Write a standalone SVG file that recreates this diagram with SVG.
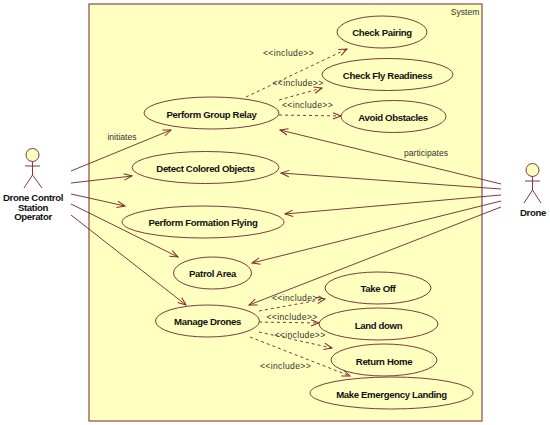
<svg xmlns="http://www.w3.org/2000/svg" width="550" height="425" viewBox="0 0 550 425">
<style>
.sys{fill:#ffffc0;stroke:#8b4a4a;stroke-width:1.2}
.uc{fill:#ffffc0;stroke:#7f3a3a;stroke-width:1}
.t{font-family:"Liberation Sans",Arial,sans-serif;font-weight:700;font-size:9.600px;letter-spacing:-.35px;fill:#111;text-anchor:middle;dominant-baseline:central}
.l{font-family:"Liberation Sans",Arial,sans-serif;font-size:8.600px;fill:#333;text-anchor:middle;dominant-baseline:central}
.i{letter-spacing:.35px}
.as{fill:none;stroke:#7f3a3a;stroke-width:1;marker-end:url(#a)}
.inc{fill:none;stroke:#7f3a3a;stroke-width:1;stroke-dasharray:3 3;marker-end:url(#a)}
.act{fill:none;stroke:#7f3a3a;stroke-width:1}
.head{fill:#ffffc0;stroke:#7f3a3a;stroke-width:1}
</style>
<defs><marker id="a" markerUnits="userSpaceOnUse" markerWidth="12" markerHeight="10" refX="10" refY="5" orient="auto"><path d="M2 1.800L10 5L2 8.200" fill="none" stroke="#7f2a2a" stroke-width="1"/></marker></defs>
<rect width="550" height="425" fill="#fff"/>
<g id="system"><rect class="sys" x="89" y="4" width="393" height="417"/><text class="l" x="465" y="12">System</text></g>
<g id="connectors">
<path class="as" d="M71 171L171 130"/><path class="as" d="M71 183L132 176"/><path class="as" d="M71 194L125 206"/><path class="as" d="M71 204L178 257"/><path class="as" d="M71 215L186 305"/>
<path class="as" d="M501 184L280 130"/><path class="as" d="M501 189L281 173"/><path class="as" d="M501 195L285 214"/><path class="as" d="M501 201L252 263"/><path class="as" d="M501 207L249 305"/>
<path class="inc" d="M246 97L347 49"/><path class="inc" d="M279 100L322 88"/><path class="inc" d="M279 115L341 116"/>
<path class="inc" d="M259 311L325 299"/><path class="inc" d="M259 322L319 323"/><path class="inc" d="M259 332L332 348"/><path class="inc" d="M250 337L350 376"/>
<text class="l" x="122" y="137">initiates</text><text class="l" x="426" y="153">participates</text>
<text class="l i" x="288.500" y="53">&lt;&lt;include&gt;&gt;</text><text class="l i" x="298" y="83">&lt;&lt;include&gt;&gt;</text><text class="l i" x="307.500" y="105">&lt;&lt;include&gt;&gt;</text>
<text class="l i" x="297.500" y="298">&lt;&lt;include&gt;&gt;</text><text class="l i" x="292" y="316.500">&lt;&lt;include&gt;&gt;</text><text class="l i" x="300" y="335">&lt;&lt;include&gt;&gt;</text><text class="l i" x="285.500" y="366">&lt;&lt;include&gt;&gt;</text>
</g>
<g id="operator"><circle class="head" cx="32.500" cy="155" r="6.500"/><path class="act" d="M32.500 161.500V175M25 166H40M32.500 175L24 188M32.500 175L42 188"/><text class="t" x="33" y="197">Drone Control</text><text class="t" x="33" y="207">Station</text><text class="t" x="33" y="216.500">Operator</text></g>
<g id="drone"><circle class="head" cx="532.500" cy="170" r="6.500"/><path class="act" d="M532.500 176.500V190M525 181H540M532.500 190L524 203M532.500 190L541 203"/><text class="t" x="533" y="212">Drone</text></g>
<g id="check-pairing"><ellipse class="uc" cx="382" cy="32" rx="45" ry="16"/><text class="t" x="382" y="32.500">Check Pairing</text></g>
<g id="check-fly"><ellipse class="uc" cx="387.500" cy="74.500" rx="65.500" ry="16"/><text class="t" x="387.500" y="75">Check Fly Readiness</text></g>
<g id="avoid"><ellipse class="uc" cx="393.500" cy="116.500" rx="52.500" ry="16"/><text class="t" x="393" y="117">Avoid Obstacles</text></g>
<g id="relay"><ellipse class="uc" cx="211.500" cy="113" rx="67.500" ry="16"/><text class="t" x="211.500" y="114">Perform Group Relay</text></g>
<g id="detect"><ellipse class="uc" cx="205.500" cy="167.500" rx="73.500" ry="16"/><text class="t" x="205.500" y="168">Detect Colored Objects</text></g>
<g id="formation"><ellipse class="uc" cx="203" cy="222" rx="81" ry="16"/><text class="t" x="203" y="222.500">Perform Formation Flying</text></g>
<g id="patrol"><ellipse class="uc" cx="212.500" cy="273" rx="39" ry="16"/><text class="t" x="212.500" y="273.500">Patrol Area</text></g>
<g id="manage"><ellipse class="uc" cx="207.500" cy="321" rx="52" ry="16"/><text class="t" x="207.500" y="321.500">Manage Drones</text></g>
<g id="takeoff"><ellipse class="uc" cx="378" cy="288" rx="53" ry="16"/><text class="t" x="378" y="288.500">Take Off</text></g>
<g id="land"><ellipse class="uc" cx="378.500" cy="324" rx="59.500" ry="16"/><text class="t" x="378.500" y="325">Land down</text></g>
<g id="return"><ellipse class="uc" cx="384" cy="360" rx="53" ry="16"/><text class="t" x="384" y="361">Return Home</text></g>
<g id="emergency"><ellipse class="uc" cx="391.500" cy="393" rx="81.500" ry="16"/><text class="t" x="391.500" y="394">Make Emergency Landing</text></g>
</svg>
